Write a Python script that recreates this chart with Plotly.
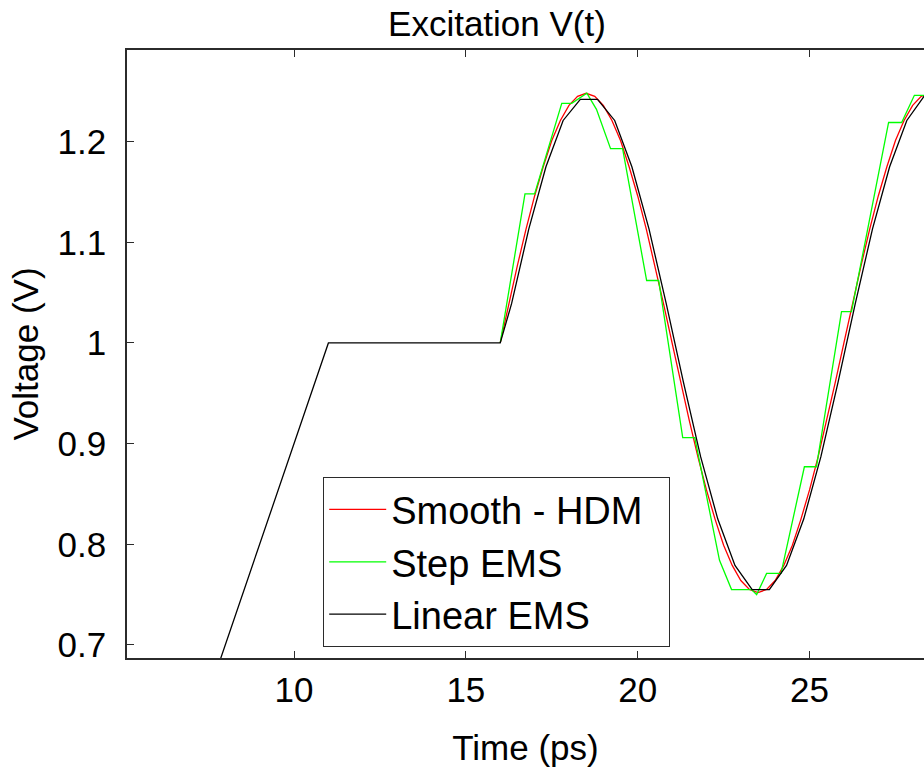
import plotly.graph_objects as go

# ---- data ----
smooth_t = [16.0, 16.25, 16.5, 16.75, 17.0, 17.25, 17.5, 17.75, 18.0, 18.25,
            18.5, 18.75, 19.0, 19.25, 19.5, 19.75, 20.0, 20.25, 20.5, 20.75,
            21.0, 21.25, 21.5, 21.75, 22.0, 22.25, 22.5, 22.75, 23.0, 23.25,
            23.5, 23.75, 24.0, 24.25, 24.5, 24.75, 25.0, 25.25, 25.5, 25.75,
            26.0, 26.25, 26.5, 26.75, 27.0, 27.25, 27.5, 27.75, 28.0, 28.25, 28.5]
smooth_v = [1.000, 1.039, 1.077, 1.113, 1.146, 1.175, 1.201, 1.221, 1.236, 1.245,
            1.248, 1.245, 1.236, 1.221, 1.201, 1.175, 1.146, 1.113, 1.077, 1.039,
            1.000, 0.961, 0.923, 0.887, 0.854, 0.825, 0.799, 0.779, 0.764, 0.755,
            0.752, 0.755, 0.764, 0.779, 0.799, 0.825, 0.854, 0.887, 0.923, 0.961,
            1.000, 1.039, 1.077, 1.113, 1.146, 1.175, 1.201, 1.221, 1.236, 1.245, 1.248]

step_t = [16.0, 16.72, 17.00, 17.79, 18.08, 18.52, 18.80, 19.21, 19.56, 20.26,
          20.61, 21.31, 21.66, 22.38, 22.73, 23.31, 23.46, 23.75, 24.17, 24.85,
          25.20, 25.93, 26.22, 27.30, 27.68, 28.05, 28.60]
step_v = [1.000, 1.148, 1.148, 1.238, 1.238, 1.248, 1.232, 1.193, 1.193, 1.062,
          1.062, 0.906, 0.906, 0.784, 0.755, 0.755, 0.750, 0.771, 0.771, 0.877,
          0.877, 1.031, 1.031, 1.219, 1.219, 1.246, 1.246]

linear_t = [7.0, 11.0, 16.0, 16.33, 16.83, 17.33, 17.83, 18.33, 18.83, 19.33,
            19.83, 20.33, 20.83, 21.33, 21.83, 22.33, 22.83, 23.33, 23.83, 24.33,
            24.83, 25.33, 25.83, 26.33, 26.83, 27.33, 27.83, 28.33, 28.83]
linear_v = [0.600, 1.000, 1.000, 1.039, 1.113, 1.175, 1.221, 1.242, 1.242, 1.221,
            1.175, 1.113, 1.039, 0.961, 0.887, 0.825, 0.779, 0.755, 0.755, 0.779,
            0.825, 0.887, 0.961, 1.039, 1.113, 1.175, 1.221, 1.245, 1.245]

x_ticks = [10, 15, 20, 25]
y_ticks = [0.7, 0.8, 0.9, 1.0, 1.1, 1.2]
y_ticktext = ["0.7", "0.8", "0.9", "1", "1.1", "1.2"]

FONT = "Liberation Sans, Arial, sans-serif"
AXC = "#2b2b2b"

W, H = 924, 774
L, T, B = 127, 50, 658  # plot area edges in pixels

fig = go.Figure()
fig.add_trace(go.Scatter(x=smooth_t, y=smooth_v, mode="lines",
                         name="Smooth - HDM\u00a0\u00a0",
                         line=dict(color="#ff0000", width=1.3)))
fig.add_trace(go.Scatter(x=step_t, y=step_v, mode="lines", name="Step EMS",
                         line=dict(color="#00ff00", width=1.3)))
fig.add_trace(go.Scatter(x=linear_t, y=linear_v, mode="lines", name="Linear EMS",
                         line=dict(color="#000000", width=1.3)))

fig.update_layout(
    width=W, height=H,
    margin=dict(l=L, r=0, t=T, b=H - B),
    paper_bgcolor="white", plot_bgcolor="white",
    font=dict(family=FONT, size=35, color="#000000"),
    title=dict(text="Excitation V(t)", x=(497 - L) / (W - L), xref="paper",
               xanchor="center", y=1 - 24 / H, yref="container", yanchor="middle",
               font=dict(size=35)),
    showlegend=True,
    legend=dict(x=(323 - L) / (W - L), xanchor="left",
                y=(B - 477) / (B - T), yanchor="top",
                bgcolor="white", bordercolor=AXC, borderwidth=1.2,
                font=dict(size=38), itemwidth=57, tracegroupgap=0),
)
fig.update_xaxes(range=[5.14, 28.33], tickvals=x_ticks, ticks="inside", ticklen=7,
                 tickcolor=AXC, showline=True, linecolor=AXC, linewidth=1.5,
                 mirror="ticks", showgrid=False, zeroline=False,
                 tickfont=dict(size=35),
                 title=dict(text="Time (ps)", font=dict(size=35), standoff=28))
fig.update_yaxes(range=[0.687, 1.291], tickvals=y_ticks, ticktext=y_ticktext,
                 ticks="inside", ticklen=7, tickcolor=AXC, showline=True,
                 linecolor=AXC, linewidth=1.5, mirror=False, showgrid=False,
                 zeroline=False, tickfont=dict(size=35), ticklabelstandoff=12,
                 title=dict(text="Voltage (V)", font=dict(size=35), standoff=8))

fig.write_html("out.html")
